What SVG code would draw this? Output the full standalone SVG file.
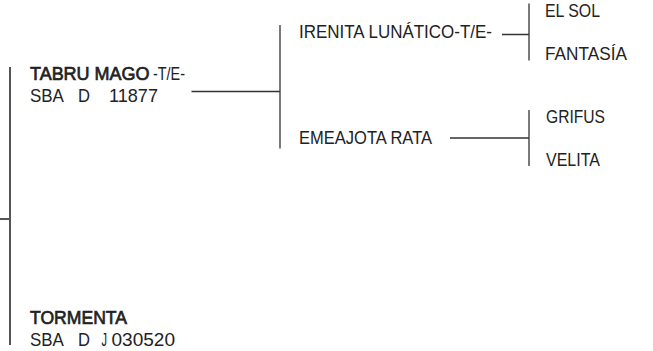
<svg xmlns="http://www.w3.org/2000/svg" width="653" height="351" viewBox="0 0 653 351">
<style>
.t{font-family:"Liberation Sans",Arial,sans-serif;font-size:19px;fill:#222}
.b{stroke:#222;stroke-width:0.7}
.c{stroke:#333;stroke-width:1.3;fill:none}
.r{stroke:#555;stroke-width:2;fill:none}
</style>
<rect width="653" height="351" fill="#fff"/>
<g id="connectors">
<path class="r" d="M0 219H10M10 67V345"/>
<path class="c" d="M191.5 91.5H280M280 25V148.5"/>
<path class="c" d="M502 34.5H529M529 3.5V60.5"/>
<path class="c" d="M450 138H529M529 110V166"/>
</g>
<g id="tabru">
<text class="t" y="79.5"><tspan class="b" x="30" textLength="119.5" lengthAdjust="spacingAndGlyphs">TABRU MAGO</tspan><tspan x="153" textLength="32" lengthAdjust="spacingAndGlyphs">-T/E-</tspan></text>
<text class="t" y="101.5"><tspan x="30" textLength="33" lengthAdjust="spacingAndGlyphs">SBA</tspan> <tspan x="78" textLength="12" lengthAdjust="spacingAndGlyphs">D</tspan> <tspan x="109" textLength="49" lengthAdjust="spacingAndGlyphs">11877</tspan></text>
</g>
<g id="tormenta">
<text class="t" y="323.5"><tspan class="b" x="30" textLength="97" lengthAdjust="spacingAndGlyphs">TORMENTA</tspan></text>
<text class="t" y="345.5"><tspan x="30" textLength="33" lengthAdjust="spacingAndGlyphs">SBA</tspan> <tspan x="78" textLength="12" lengthAdjust="spacingAndGlyphs">D</tspan> <tspan x="101.5" textLength="5.5" lengthAdjust="spacingAndGlyphs">J</tspan> <tspan x="111.5" textLength="63.5" lengthAdjust="spacingAndGlyphs">030520</tspan></text>
</g>
<g id="irenita">
<text class="t" x="299" y="38" textLength="193" lengthAdjust="spacingAndGlyphs">IRENITA LUNÁTICO-T/E-</text>
</g>
<g id="emeajota">
<text class="t" x="299" y="144" textLength="133" lengthAdjust="spacingAndGlyphs">EMEAJOTA RATA</text>
</g>
<g id="elsol">
<text class="t" x="545" y="16.5" textLength="55" lengthAdjust="spacingAndGlyphs">EL SOL</text>
</g>
<g id="fantasia">
<text class="t" x="545" y="60" textLength="82" lengthAdjust="spacingAndGlyphs">FANTASÍA</text>
</g>
<g id="grifus">
<text class="t" x="546" y="123" textLength="59" lengthAdjust="spacingAndGlyphs">GRIFUS</text>
</g>
<g id="velita">
<text class="t" x="546" y="166" textLength="54" lengthAdjust="spacingAndGlyphs">VELITA</text>
</g>
</svg>
